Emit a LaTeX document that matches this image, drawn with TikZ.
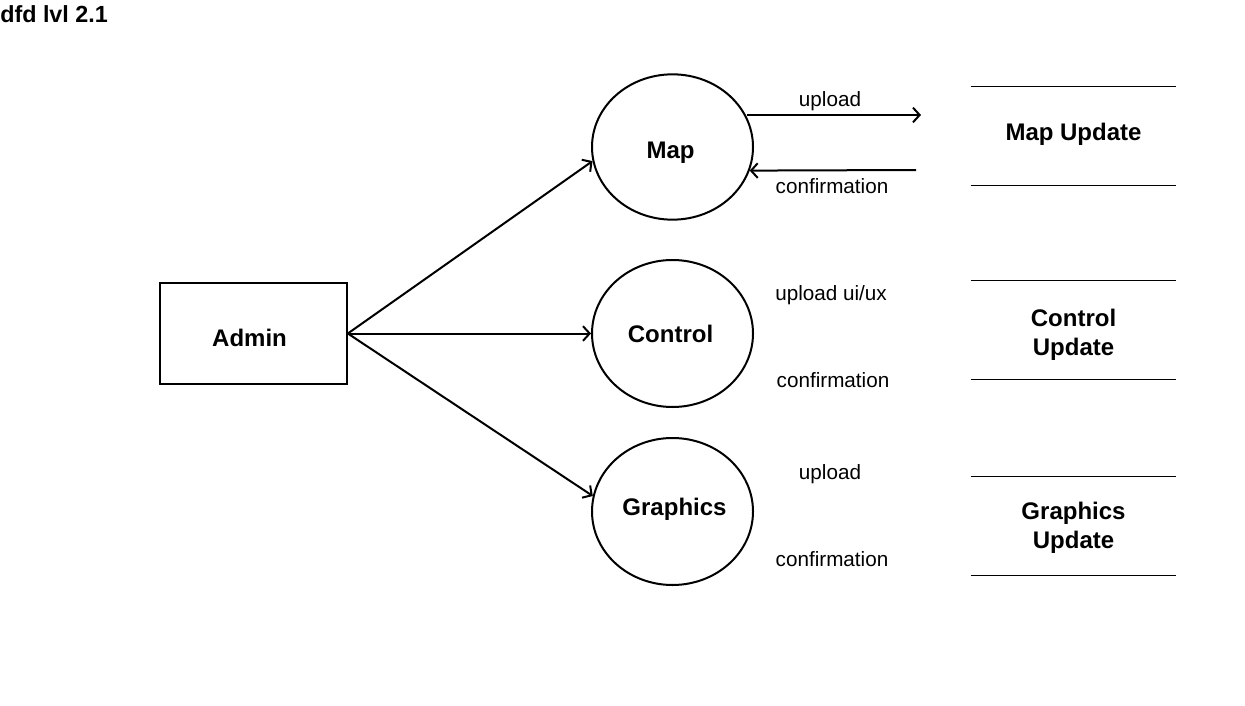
\documentclass[tikz,border=0pt]{standalone}
\usepackage{fontspec}
\setmainfont{Liberation Sans}
\usepackage{tikz}
\usetikzlibrary{arrows.meta}
\usetikzlibrary{positioning}
\usetikzlibrary{shapes}
\tikzset{
    entity/.style={
        draw,
        rectangle,
        line width=1.5pt,
        minimum width=140pt,
        minimum height=75.75pt
    },
    process/.style={
        draw,
        ellipse,
        line width=1.5pt,
        minimum width=120.75pt,
        minimum height=109pt,
        inner sep=0pt
    },
    store/.style={
        rectangle,
        minimum width=153.75pt,
        minimum height=73.5pt
    },
    inlabel/.style={
        inner sep=0pt,
        align=center,
        font=\fontsize{18}{21.75}\selectfont\bfseries
    },
    flowlabel/.style={
        inner sep=0pt,
        font=\fontsize{15.5}{18}\selectfont
    },
    flow/.style={
        draw,
        line width=1.5pt,
        -{Straight Barb[length=5pt, width=11pt, line width=1.5pt]}
    }
}

\begin{document}
\begin{tikzpicture}[x=0.75pt, y=-0.75pt]
    \useasboundingbox (0,0) rectangle (1245,706);
    % Title
    \node[anchor=west, inner sep=0pt, font=\fontsize{17.5}{21}\selectfont\bfseries] (title) at (0,14) {dfd lvl 2.1};

    % Nodes
    \node[entity, label={[inlabel, xshift=-3pt, yshift=-3pt]center:Admin}] (admin) at (253.5,333.5) {};
    \node[process, label={[inlabel, xshift=-1.5pt, yshift=-4.5pt]center:Map}] (map) at (672.5,147) {};
    \node[process, minimum height=110.25pt, label={[inlabel, xshift=-1.5pt]center:Control}] (control) at (672.5,333.5) {};
    \node[process, minimum height=110.25pt, label={[inlabel, xshift=1.5pt, yshift=2pt]center:Graphics}] (graphics) at (672.5,511.5) {};

    % Data stores
    \node[store, label={[inlabel, yshift=1.5pt]center:Map Update}] (mapstore) at (1073.5,136) {};
    \node[store, label={[inlabel, yshift=-3.5pt]center:Control\\Update}] (controlstore) at (1073.5,330) {};
    \node[store, label={[inlabel, yshift=-1.5pt]center:Graphics\\Update}] (graphicsstore) at (1073.5,526) {};
    \foreach \s in {mapstore, controlstore, graphicsstore} {
        \draw[line width=1pt] (\s.north west) -- (\s.north east);
        \draw[line width=1pt] (\s.south west) -- (\s.south east);
    }

    % Edges
    \draw[flow] (admin.east) -- (map.190);
    \draw[flow] (admin.east) -- (control.west);
    \draw[flow] (admin.east) -- (graphics.169);

    % Map flows
    \coordinate (mapout) at (921,115);
    \coordinate (mapin) at (916,170);
    \draw[flow] (mapout -| map.22) -- (mapout);
    \draw[flow] (mapin) -- (map.-17);

    % Flow labels
    \node[flowlabel] (mapup) at (830,101) {upload};
    \node[flowlabel] (mapconf) at (832,186) {confirmation};
    \node[flowlabel] (controlup) at (831,295) {upload ui/ux};
    \node[flowlabel] (controlconf) at (833,380) {confirmation};
    \node[flowlabel] (graphicsup) at (830,474) {upload};
    \node[flowlabel] (graphicsconf) at (832,559) {confirmation};
\end{tikzpicture}
\end{document}
